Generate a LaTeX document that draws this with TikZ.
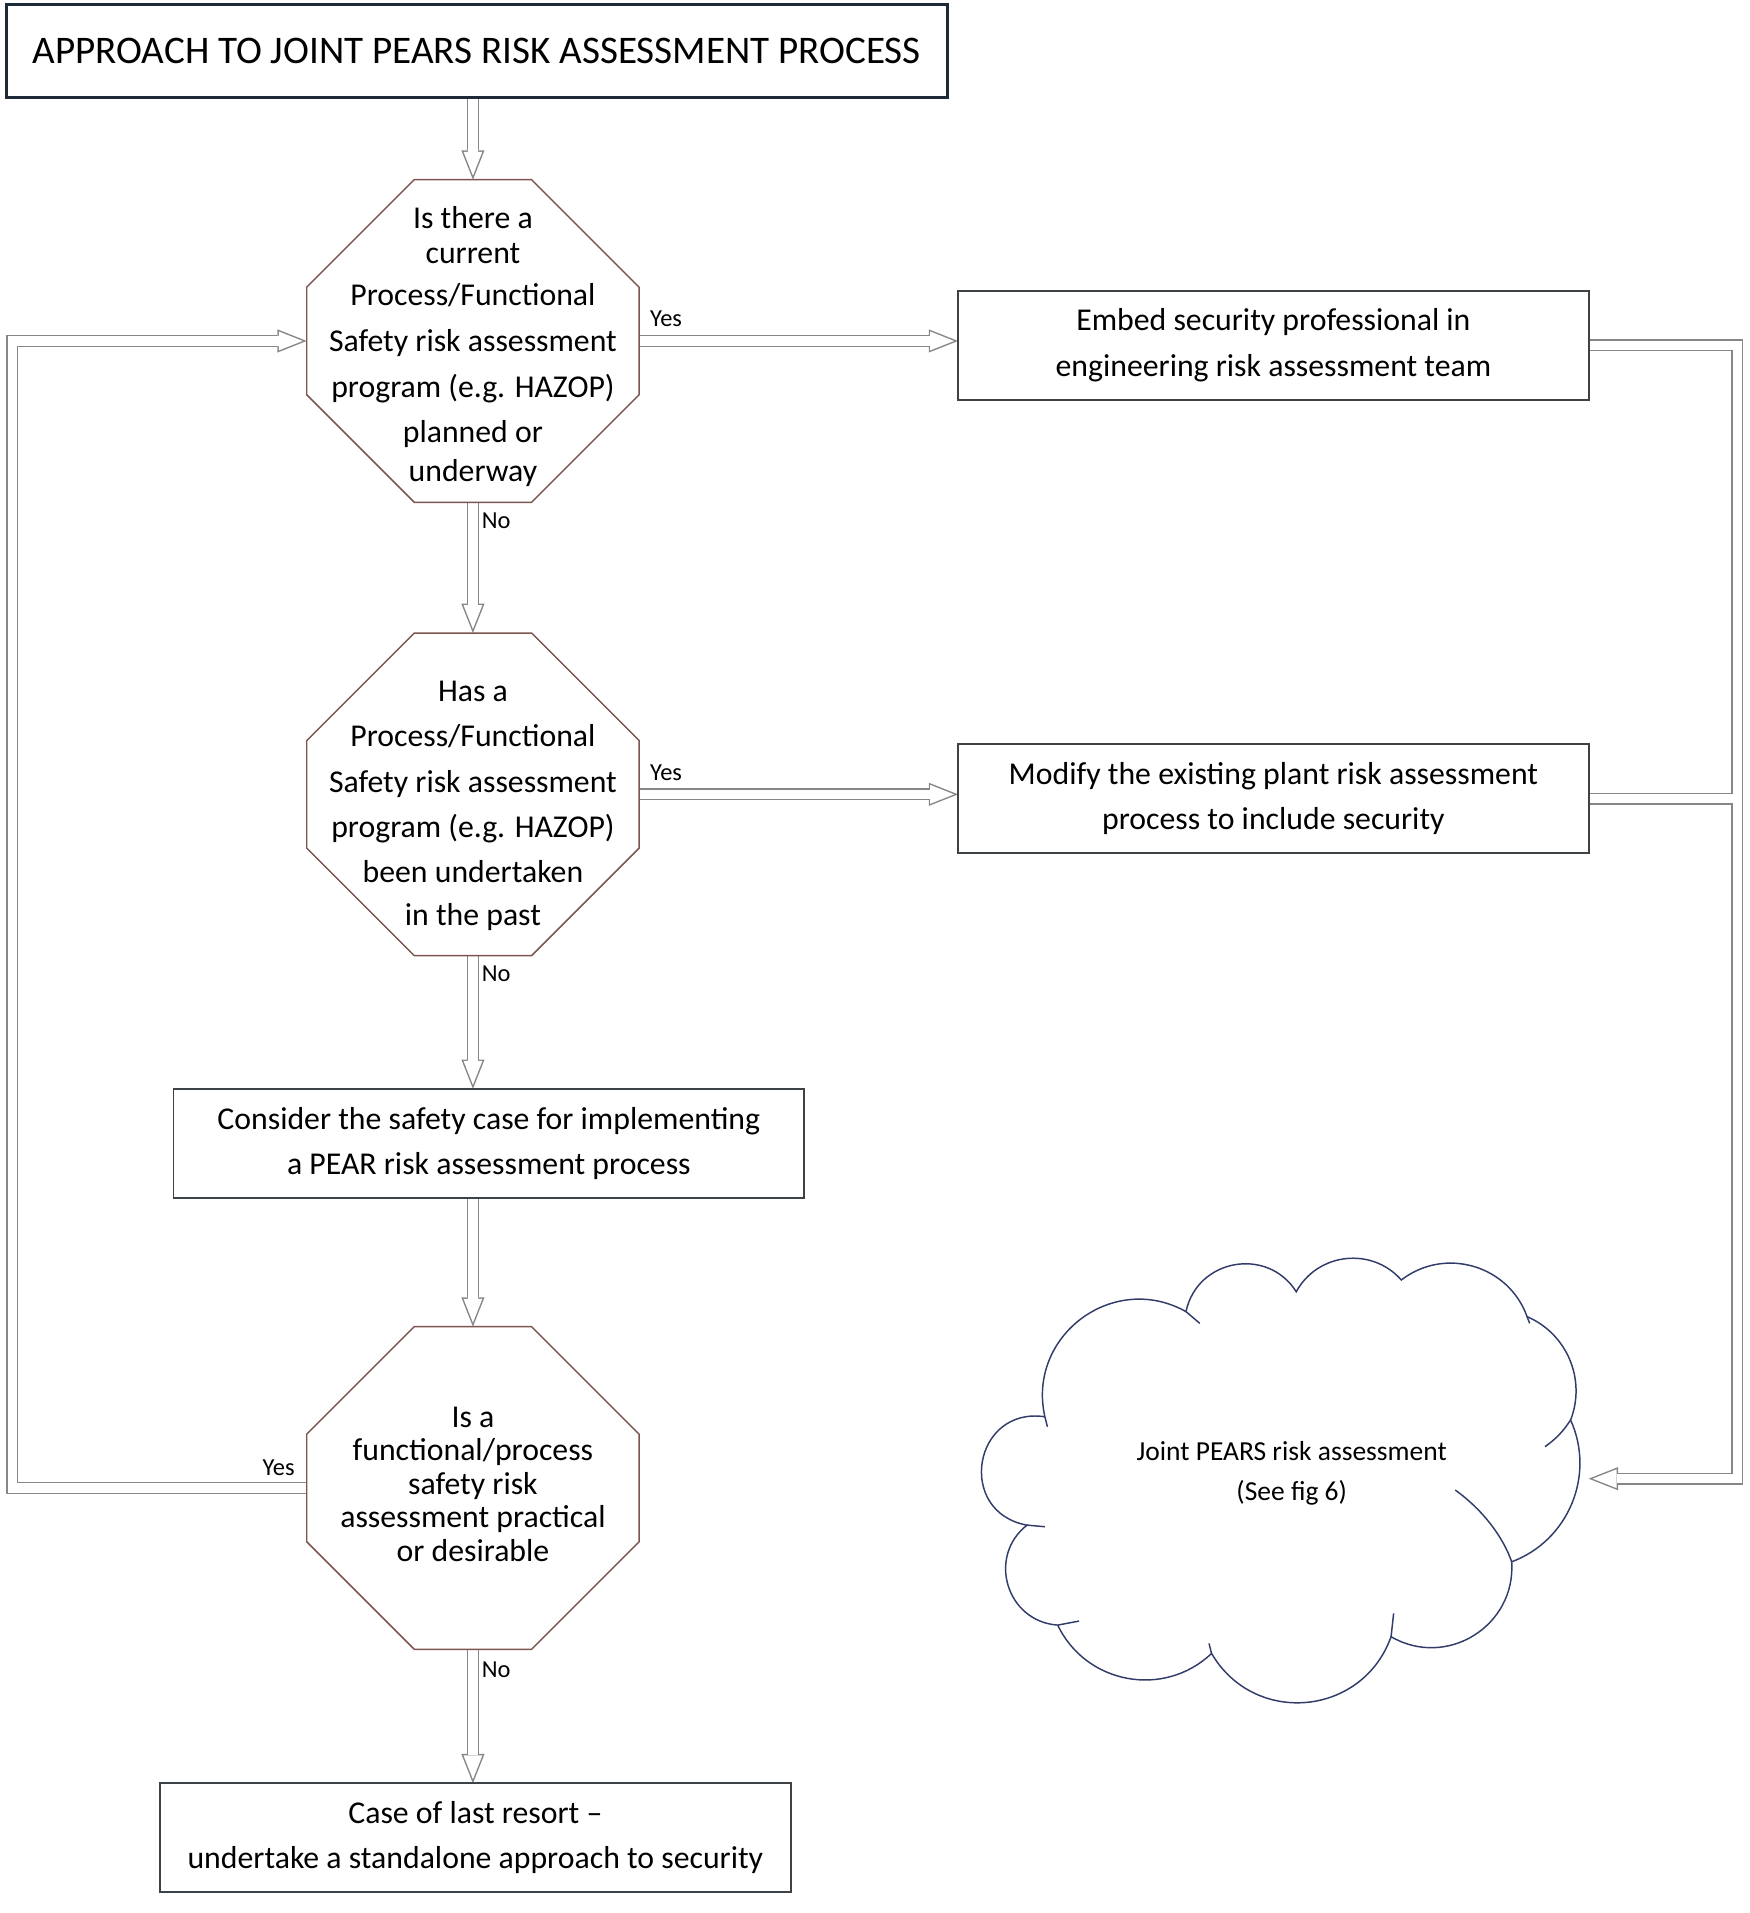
\documentclass[tikz,border=0pt]{standalone}
\usepackage{fontspec}
\setmainfont{Carlito}
\usetikzlibrary{arrows.meta,calc}
\pgfdeclarelayer{bg}
\pgfsetlayers{bg,main}
\definecolor{octc}{RGB}{125,85,80}
\definecolor{boxc}{RGB}{60,66,70}
\definecolor{titc}{RGB}{30,42,55}
\definecolor{pipec}{RGB}{135,135,135}
\definecolor{cloudc}{RGB}{50,60,105}
\tikzset{
  every node/.style={inner sep=0pt, outer sep=0pt},
  body/.style={font=\fontsize{26}{37}\selectfont, align=center},
  box/.style={draw=boxc, line width=1.5pt, minimum width=516pt, minimum height=89pt, body},
  titlebox/.style={draw=titc, line width=2.6pt, minimum width=770pt, minimum height=75.6pt, font=\fontsize{32}{38}\selectfont},
  octnode/.style={minimum width=272pt, minimum height=264pt},
  octline/.style={draw=octc, line width=1.2pt},
  lbl/.style={font=\fontsize{20}{24}\selectfont},
  cloudline/.style={draw=cloudc, line width=1.2pt},
  pipeo/.style={draw=pipec, line width=10pt},
  pipei/.style={draw=white, line width=7.6pt},
  tipo/.style={-{Triangle[length=24pt,width=19pt,line width=0pt]}},
  tipi/.style={shorten >=3.3pt, -{Triangle[length=19.5pt,width=15.4pt,line width=0pt]}},
}
\newcommand\octo[1]{%
  \draw[octline] ($(#1.north west)+(88,0)$) -- ($(#1.north east)+(-88,0)$)
    -- ($(#1.north east)+(0,-88)$) -- ($(#1.south east)+(0,88)$)
    -- ($(#1.south east)+(-88,0)$) -- ($(#1.south west)+(88,0)$)
    -- ($(#1.south west)+(0,88)$) -- ($(#1.north west)+(0,-88)$) -- cycle;}
\newcommand\hollow[1]{\draw[pipeo,tipo] #1; \draw[pipei,tipi] #1;}
\begin{document}
\begin{tikzpicture}[x=1pt,y=1pt]
\useasboundingbox (0,0) rectangle (1432,-1565.4);

% title
\node[titlebox] (title) at (390,-41.8) {APPROACH TO JOINT PEARS RISK ASSESSMENT PROCESS};

% decision octagons
\node[octnode] (q1) at (387,-279) {};
\node[octnode] (q2) at (387,-650) {};
\node[octnode] (q3) at (387,-1217.6) {};
\octo{q1}
\octo{q2}
\octo{q3}
\node[body] (q1t) at (387,-283.5) {Is there a\\[-8pt]current\\[-3pt]Process/Functional\\[1pt]Safety risk assessment\\program (e.g. HAZOP)\\planned or\\[-5pt]underway};
\node[body] (q2t) at (387,-659.5) {Has a\\Process/Functional\\Safety risk assessment\\program (e.g. HAZOP)\\been undertaken\\[-2pt]in the past};
\node[body, font=\fontsize{26}{27.3}\selectfont] (q3t) at (387,-1214.5) {Is a\\functional/process\\safety risk\\assessment practical\\or desirable};

% process boxes
\node[box] (emb) at (1042,-282.5) {Embed security professional in\\engineering risk assessment team};
\node[box] (mod) at (1042,-653.5) {Modify the existing plant risk assessment\\process to include security};
\node[box] (cons) at (400,-935.5) {Consider the safety case for implementing\\a PEAR risk assessment process};
\node[box] (last) at (389,-1503.75) {Case of last resort –\\undertake a standalone approach to security};

% cloud
\coordinate (cA) at (855,-1159.3);
\coordinate (cB) at (970.5,-1073.3);
\coordinate (cC) at (1060.7,-1057);
\coordinate (cD) at (1146.7,-1047.4);
\coordinate (cE) at (1249.6,-1077.4);
\coordinate (cF) at (1285.2,-1162);
\coordinate (cG) at (1237,-1278);
\coordinate (cH) at (1138.3,-1339.3);
\coordinate (cI) at (991.4,-1353);
\coordinate (cJ) at (865.5,-1329.8);
\coordinate (cK) at (840.4,-1248);
\draw[cloudline] (cA) to[bend left=66,looseness=1.21] (cB)
  to[bend left=68,looseness=1.23] (cC)
  to[bend left=55,looseness=1.08] (cD)
  to[bend left=54,looseness=1.07] (cE)
  to[bend left=44,looseness=0.99] (cF)
  to[bend left=47,looseness=1.01] (cG)
  to[bend left=62,looseness=1.16] (cH)
  to[bend left=65,looseness=1.2] (cI)
  to[bend left=54,looseness=1.07] (cJ)
  to[bend left=69,looseness=1.25] (cK)
  to[bend left=89,looseness=1.69] (cA);
% small inner tails of the cloud lobes
\draw[cloudline] (cA) -- (857.1,-1167.5);
\draw[cloudline] (cB) -- (981.8,-1082.9);
\draw[cloudline] (cE) -- (1251.7,-1082.9);
\draw[cloudline] (cF) to[bend left=10] (1264.3,-1183.8);
\draw[cloudline] (cG) .. controls (1230,-1258) and (1214,-1236) .. (1190.8,-1219.3);
\draw[cloudline] (cH) -- (1140.4,-1320.2);
\draw[cloudline] (cI) -- (989.3,-1344.8);
\draw[cloudline] (cJ) -- (883,-1326.5);
\draw[cloudline] (cK) -- (855,-1249.3);
\node[font=\fontsize{22.5}{33}\selectfont, align=center] (cloudt) at (1057,-1205.5) {Joint PEARS risk assessment\\(See fig 6)};
\coordinate (cloudE) at (1300,-1210);

% routing columns
\coordinate (lx) at (10,0);
\coordinate (rx) at (1421.5,0);

% labels
\node[lbl] (y1) at (545,-261) {Yes};
\node[lbl] (n1) at (406,-426) {No};
\node[lbl] (y2) at (545,-632) {Yes};
\node[lbl] (n2) at (406,-797) {No};
\node[lbl] (n3) at (406,-1366) {No};
\node[lbl] (y3) at (228,-1201) {Yes};

% connectors
\begin{pgfonlayer}{bg}
\hollow{(q1.north |- title.south) -- (q1.north)}
\hollow{(q1.south) -- (q2.north)}
\hollow{(q2.south) -- (q2.south |- cons.north)}
\hollow{(q3.north |- cons.south) -- (q3.north)}
\hollow{(q3.south) -- (q3.south |- last.north)}
\hollow{(q1.east) -- (q1.east -| emb.west)}
\hollow{(q2.east) -- (q2.east -| mod.west)}
\hollow{(q3.west) -- (q3.west -| lx) -- (q1.west -| lx) -- (q1.west)}
\draw[pipeo,tipo] (emb.east) -- (emb.east -| rx) -- (cloudE -| rx) -- (cloudE);
\draw[pipeo] (mod.east) -- (mod.east -| rx);
\draw[pipei,tipi] (emb.east) -- (emb.east -| rx) -- (cloudE -| rx) -- (cloudE);
\draw[pipei] (mod.east) -- (mod.east -| rx);
\end{pgfonlayer}
\end{tikzpicture}
\end{document}
